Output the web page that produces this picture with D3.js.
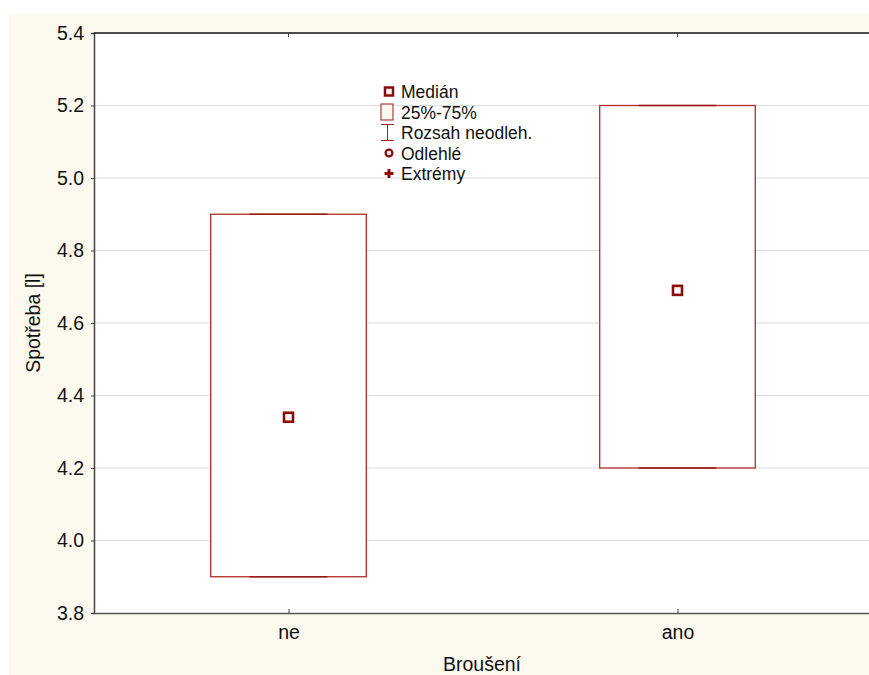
<!DOCTYPE html>
<html>
<head>
<meta charset="utf-8">
<script src="https://cdn.jsdelivr.net/npm/d3@7"></script>
<style>
  body { margin: 0; background: #fff; }
  text { font-family: "Liberation Sans", Arial, sans-serif; fill: #111; }
</style>
</head>
<body>
<div id="chart"></div>
<script>
// data
const categories = ["ne", "ano"];
const medians = [4.34, 4.69];
const q1 = [3.9, 4.2];
const q3 = [4.9, 5.2];
const whiskMin = [3.9, 4.2];
const whiskMax = [4.9, 5.2];
const yTicks = [3.8, 4.0, 4.2, 4.4, 4.6, 4.8, 5.0, 5.2, 5.4];
const legendItems = ["Medián", "25%-75%", "Rozsah neodleh.", "Odlehlé", "Extrémy"];

const W = 869, H = 675;
const plot = { left: 94, top: 33, right: 872, bottom: 613 };
const fs = "19.5px";

const svg = d3.select("#chart").append("svg")
    .attr("width", W)
    .attr("height", H);

svg.append("rect")
    .attr("x", 9).attr("y", 14)
    .attr("width", W - 9).attr("height", H - 14)
    .attr("fill", "#fdf9ee");

const x = d3.scalePoint().domain(categories).range([plot.left, plot.right]).padding(0.5);
const y = d3.scaleLinear().domain([3.8, 5.4]).range([plot.bottom, plot.top]);
const step = x.step();
const boxW = step * 0.4;

svg.append("rect")
    .attr("x", plot.left).attr("y", plot.top)
    .attr("width", plot.right - plot.left).attr("height", plot.bottom - plot.top)
    .attr("fill", "#fff");

// gridlines
svg.append("g").selectAll("line")
    .data(yTicks.slice(1, -1))
    .join("line")
    .attr("x1", plot.left).attr("x2", plot.right)
    .attr("y1", d => y(d)).attr("y2", d => y(d))
    .attr("stroke", "#dcdcdc").attr("stroke-width", 1);

// y axis
const yAxis = svg.append("g")
    .attr("transform", `translate(${plot.left},0)`)
    .call(d3.axisLeft(y).tickValues(yTicks).tickFormat(d3.format(".1f")).tickSize(3).tickPadding(7));
yAxis.select(".domain").attr("stroke", "#444").attr("stroke-width", 1.5);
yAxis.selectAll(".tick line").attr("stroke", "#444");
yAxis.selectAll("text").style("font-size", fs).attr("fill", "#111");

// x axis
const xAxis = svg.append("g")
    .attr("transform", `translate(0,${plot.bottom})`)
    .call(d3.axisBottom(x).tickSize(-4).tickSizeOuter(0).tickPadding(12.5));
xAxis.select(".domain").attr("stroke", "#555").attr("stroke-width", 1.5);
xAxis.selectAll(".tick line").attr("stroke", "#444");
xAxis.selectAll("text").style("font-size", fs).attr("fill", "#111");

// top border with ticks
svg.append("line")
    .attr("x1", plot.left).attr("x2", plot.right)
    .attr("y1", plot.top).attr("y2", plot.top)
    .attr("stroke", "#111").attr("stroke-width", 1.5);
svg.append("g").selectAll("line")
    .data(categories)
    .join("line")
    .attr("x1", d => x(d)).attr("x2", d => x(d))
    .attr("y1", plot.top).attr("y2", plot.top + 4)
    .attr("stroke", "#444");

// boxes
const boxes = svg.append("g");
categories.forEach((c, i) => {
    const cx = x(c);
    boxes.append("rect")
        .attr("x", cx - boxW / 2).attr("y", y(q3[i]))
        .attr("width", boxW).attr("height", y(q1[i]) - y(q3[i]))
        .attr("fill", "#fff")
        .attr("stroke", "#b22a2a").attr("stroke-width", 1.3);
    // whisker caps (coincide with box edges)
    [whiskMin[i], whiskMax[i]].forEach(v => {
        boxes.append("line")
            .attr("x1", cx - boxW / 4).attr("x2", cx + boxW / 4)
            .attr("y1", y(v)).attr("y2", y(v))
            .attr("stroke", "#9b1b1b").attr("stroke-width", 1.3);
    });
    boxes.append("rect")
        .attr("x", cx - 4.5).attr("y", y(medians[i]) - 4.5)
        .attr("width", 9).attr("height", 9)
        .attr("fill", "#fff")
        .attr("stroke", "#8b0a0a").attr("stroke-width", 2.6);
});

// legend
const lg = svg.append("g").attr("transform", "translate(389,0)");
const legBase = [98, 118.5, 139, 159.5, 180];
const legY = legBase.map(b => b - 6.5);
lg.append("rect").attr("x", -4).attr("y", legY[0] - 4).attr("width", 8).attr("height", 8)
    .attr("fill", "#fff").attr("stroke", "#8b0a0a").attr("stroke-width", 2.5);
lg.append("rect").attr("x", -8).attr("y", legY[1] - 8).attr("width", 12).attr("height", 16)
    .attr("fill", "#fdf9ee").attr("stroke", "#9b1b1b").attr("stroke-width", 1);
lg.append("path")
    .attr("d", `M-8,${legY[2] - 8}H5M-1.5,${legY[2] - 8}V${legY[2] + 8}M-8,${legY[2] + 8}H5`)
    .attr("fill", "none").attr("stroke", "#a52020").attr("stroke-width", 1);
lg.append("circle").attr("cx", 0).attr("cy", legY[3]).attr("r", 3.4)
    .attr("fill", "#fff").attr("stroke", "#8b0a0a").attr("stroke-width", 2.3);
lg.append("path").attr("d", d3.symbol(d3.symbolCross, 44)())
    .attr("transform", `translate(0,${legY[4]})`)
    .attr("fill", "#8b0a0a");
lg.selectAll("text")
    .data(legendItems)
    .join("text")
    .attr("x", 12)
    .attr("y", (d, i) => legBase[i])
    .style("font-size", "17.5px")
    .text(d => d);

// axis titles
svg.append("text")
    .attr("x", 482).attr("y", 671)
    .attr("text-anchor", "middle")
    .style("font-size", fs)
    .text("Broušení");
svg.append("text")
    .attr("transform", `translate(40,${(plot.top + plot.bottom) / 2}) rotate(-90)`)
    .attr("text-anchor", "middle")
    .style("font-size", fs)
    .text("Spotřeba [l]");
</script>
</body>
</html>
